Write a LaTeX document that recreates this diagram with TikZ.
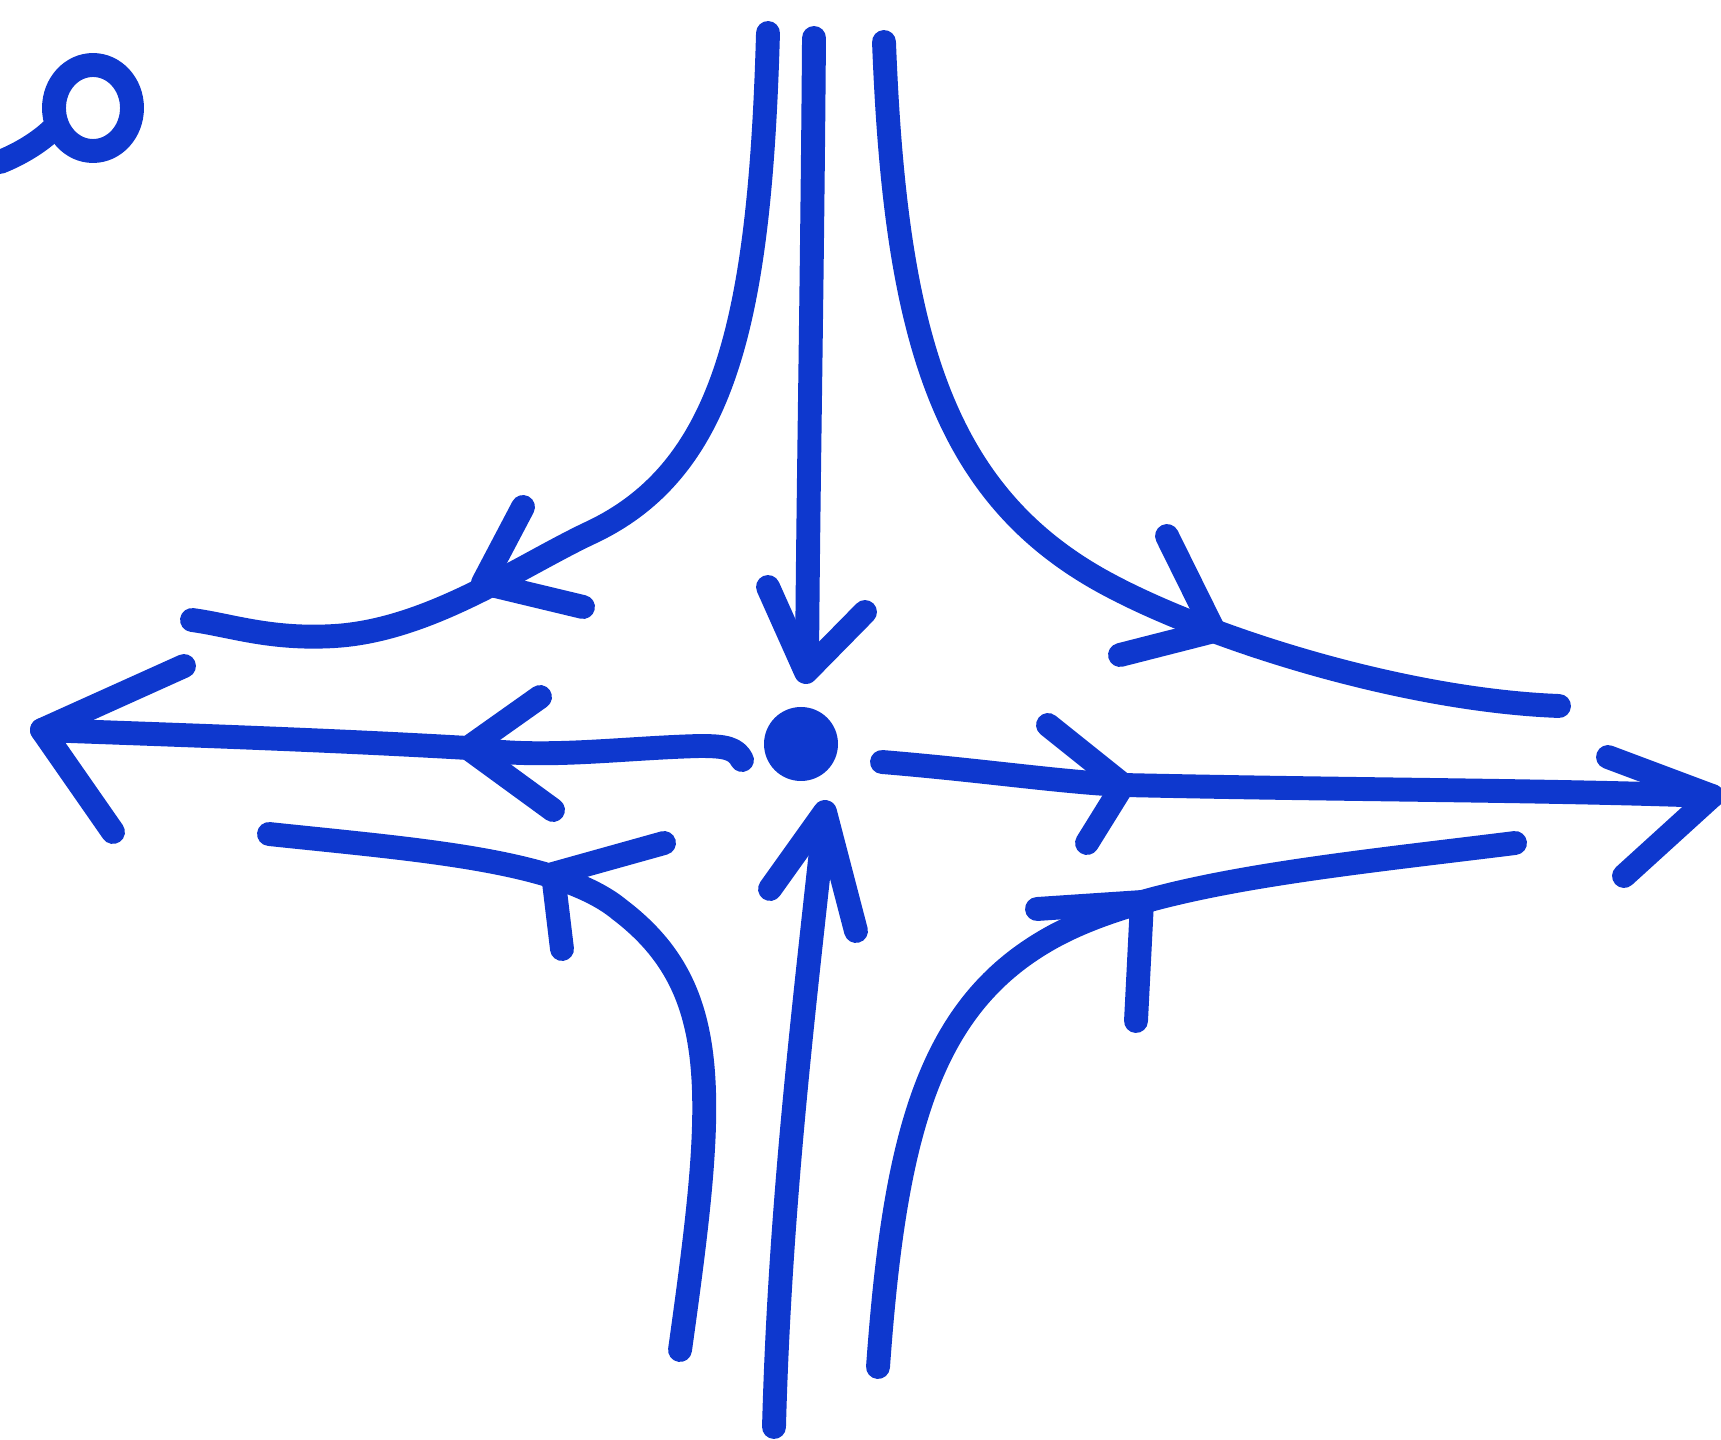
\documentclass[tikz,border=0pt]{standalone}
\definecolor{ink}{RGB}{14,56,206}
\tikzset{
  flow/.style={ink, line width=6.8pt, line cap=round, line join=round},
  head/.style={ink, line width=6.8pt, line cap=round, line join=round},
}
\begin{document}
\begin{tikzpicture}[x=0.01cm, y=-0.01cm]
            \useasboundingbox (0,0) rectangle (1721,1440);
            % saddle point
            \coordinate (sp) at (801,744);
            \fill[ink] (sp) circle (37);
            % stray mark, top left
            \draw[flow] (0,162) .. controls (20,154) and (40,142) .. (54,128);
            \draw[flow] (93,108) ellipse (39 and 43);
            % stable manifold (vertical)
            \draw[flow] (814,38) .. controls (812,300) and (808,500) .. (807,670);
            \draw[head] (768,587) -- (806,672) -- (865,612);
            \draw[flow] (774,1427) .. controls (780,1200) and (805,1000) .. (825,814);
            \draw[head] (770,889) -- (825,812) -- (856,931);
            % unstable manifold (horizontal)
            \draw[flow] (742,760) .. controls (736,748) and (725,746) .. (700,746)
                        .. controls (620,748) and (540,760) .. (468,748)
                        .. controls (330,740) and (180,735) .. (42,730);
            \draw[head] (540,697) -- (468,748) -- (553,810);
            \draw[head] (184,666) -- (42,730) -- (113,832);
            \draw[flow] (882,762) .. controls (980,770) and (1060,782) .. (1123,785)
                        .. controls (1350,790) and (1550,790) .. (1712,796);
            \draw[head] (1048,725) -- (1123,785) -- (1087,843);
            \draw[head] (1608,757) -- (1712,796) -- (1624,876);
            % hyperbolic trajectories
            \draw[flow] (768,33) .. controls (760,320) and (725,470) .. (590,533)
                        .. controls (520,566) and (430,630) .. (335,636)
                        .. controls (270,640) and (230,625) .. (192,620);
            \draw[head] (523,507) -- (483,583) -- (583,607);
            \draw[flow] (884,42) .. controls (895,330) and (940,490) .. (1100,580)
                        .. controls (1200,636) and (1400,700) .. (1559,706);
            \draw[head] (1167,536) -- (1214,631) -- (1120,655);
            \draw[flow] (680,1350) .. controls (715,1100) and (725,990) .. (620,910)
                        .. controls (560,860) and (420,850) .. (269,834);
            \draw[head] (664,843) -- (553,874) -- (562,949);
            \draw[flow] (878,1367) .. controls (895,1130) and (930,1000) .. (1060,933)
                        .. controls (1160,882) and (1330,866) .. (1515,843);
            \draw[head] (1037,909) -- (1142,902) -- (1136,1021);
\end{tikzpicture}
\end{document}
